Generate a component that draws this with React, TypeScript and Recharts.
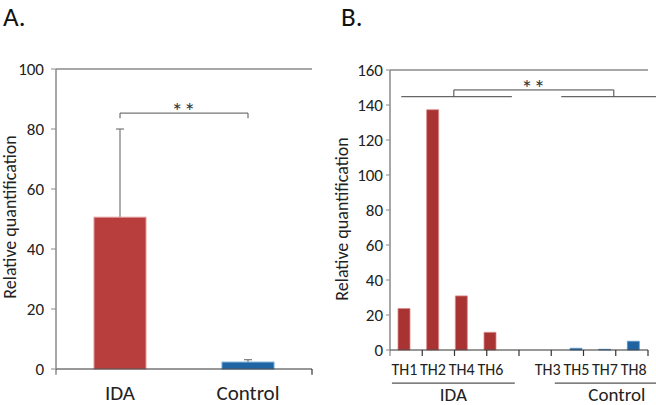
import { BarChart, Bar, XAxis, YAxis, Cell, ReferenceLine } from 'recharts';

// panel A: group means with upper error
const groupsA = ['IDA', 'Control'];
const meansA = [50.6, 2.3];
const errorsA = [29.4, 0.8];
const colorsA = ['#b83d3d', '#1f65a3'];
const ticksA = [0, 20, 40, 60, 80, 100];

// panel B: individual samples
const samplesB = ['TH1', 'TH2', 'TH4', 'TH6', '', 'TH3', 'TH5', 'TH7', 'TH8'];
const valuesB = [23.7, 137.3, 30.9, 10.1, null, 0, 1.0, 0.4, 5.0];
const groupOfB = ['IDA', 'IDA', 'IDA', 'IDA', '', 'Control', 'Control', 'Control', 'Control'];
const colorsB: Record<string, string> = { IDA: '#a93333', Control: '#1f63a0', '': 'none' };
const ticksB = [0, 20, 40, 60, 80, 100, 120, 140, 160];

const dataA = groupsA.map((g, i) => ({ group: g, value: meansA[i], err: errorsA[i] }));
const dataB = samplesB.map((s, i) => ({ sample: s, value: valuesB[i], group: groupOfB[i] }));

const FONT = 'Carlito, Lato, sans-serif';
const BOX = '#8a8a8a';
const INK = '#222';

const BarWithError = (props: any) => {
  const { x, y, width, height, fill, payload } = props;
  const perUnit = height / payload.value;
  const top = y - payload.err * perUnit;
  const cx = x + width / 2;
  return (
    <g>
      <line x1={cx} x2={cx} y1={y} y2={top} stroke="#777" strokeWidth={1.2} />
      <line x1={cx - 4} x2={cx + 4} y1={top} y2={top} stroke="#777" strokeWidth={1.2} />
      <rect x={x} y={y} width={width} height={height} fill={fill} stroke={fill === colorsA[0] ? '#e29a9a' : '#6fa6d6'} strokeWidth={1} />
    </g>
  );
};

// y tick text drawn by hand so the size sticks
const YTick = (props: any) => {
  const { x, y, payload } = props;
  return (
    <text x={x} y={y} dy="0.36em" textAnchor="end" fontSize={17} fill={INK} fontFamily={FONT}>
      {payload.value}
    </text>
  );
};

const starLabel = { value: '**', position: 'center' as const, dy: -2, fontSize: 23, style: { fontSize: 23, fill: '#333', letterSpacing: 1 } };

function PanelA() {
  const bracketY = 85.3;
  const bracketEnd = 83.6;
  return (
    <BarChart width={330} height={405} data={dataA} margin={{ top: 69, right: 18, left: 0, bottom: 0 }}>
      <XAxis dataKey="group" height={36} tickLine={false} axisLine={{ stroke: '#333', strokeWidth: 1.2 }}
        tickSize={6} tickMargin={10} fontSize={21} tick={{ fill: INK, fontSize: 21 }} />
      <XAxis xAxisId="n" type="number" domain={[0, 2]} hide />
      <YAxis domain={[0, 100]} ticks={ticksA} width={56} interval={0}
        axisLine={{ stroke: BOX, strokeWidth: 1.5 }} tickLine={{ stroke: BOX }} tickSize={5} tickMargin={7}
        tick={<YTick />}
        label={{ value: 'Relative quantification', angle: -90, position: 'center', dx: -18, dy: -2, fontSize: 18, style: { fontSize: 18, fill: INK, textAnchor: 'middle' } }} />
      <ReferenceLine y={100} stroke={BOX} strokeWidth={1.5} ifOverflow="visible" />
      <ReferenceLine xAxisId="n" ifOverflow="visible" stroke={BOX} strokeWidth={1.5} segment={[{ x: 2, y: 0 }, { x: 2, y: 100 }]} />
      {[0, 1, 2].map((b) => (
        <ReferenceLine key={b} xAxisId="n" ifOverflow="visible" stroke={b === 1 ? '#333' : BOX} strokeWidth={b === 1 ? 1.2 : 1.5}
          segment={[{ x: b, y: 0 }, { x: b, y: -1.9 }]} />
      ))}
      <Bar dataKey="value" barSize={52} isAnimationActive={false} shape={<BarWithError />}>
        {dataA.map((d, i) => <Cell key={d.group} fill={colorsA[i]} />)}
      </Bar>
      <ReferenceLine ifOverflow="visible" stroke="#555" segment={[{ x: 'IDA', y: bracketY }, { x: 'Control', y: bracketY }]} label={starLabel} />
      <ReferenceLine ifOverflow="visible" stroke="#555" segment={[{ x: 'IDA', y: bracketY }, { x: 'IDA', y: bracketEnd }]} />
      <ReferenceLine ifOverflow="visible" stroke="#555" segment={[{ x: 'Control', y: bracketY }, { x: 'Control', y: bracketEnd }]} />
    </BarChart>
  );
}

function PanelB() {
  const groupLineY = 144.8;
  const bracketY = 148.6;
  const underY = -18.9;
  const line = { xAxisId: 'n', ifOverflow: 'visible' as const };
  return (
    <BarChart width={326} height={405} data={dataB} margin={{ top: 70, right: 8, left: 0, bottom: 0 }}>
      <XAxis dataKey="sample" height={55} tickLine={false} axisLine={{ stroke: '#333', strokeWidth: 1.2 }}
        interval={0} tickSize={5} tickMargin={9} fontSize={16} tick={{ fill: INK, fontSize: 16 }} />
      <XAxis xAxisId="n" type="number" domain={[0, 9]} hide />
      <YAxis domain={[0, 160]} ticks={ticksB} width={60} interval={0}
        axisLine={{ stroke: BOX, strokeWidth: 1.5 }} tickLine={{ stroke: BOX }} tickSize={4} tickMargin={3}
        tick={<YTick />}
        label={{ value: 'Relative quantification', angle: -90, position: 'center', dx: -18, dy: 9, fontSize: 18, style: { fontSize: 18, fill: INK, textAnchor: 'middle' } }} />
      <ReferenceLine y={160} stroke={BOX} strokeWidth={1.5} ifOverflow="visible" />
      <ReferenceLine {...line} stroke={BOX} strokeWidth={1.5} segment={[{ x: 9, y: 0 }, { x: 9, y: 160 }]} />
      {[0, 1, 2, 3, 4, 5, 6, 7, 8, 9].map((b) => (
        <ReferenceLine key={b} {...line} stroke={b === 0 || b === 9 ? BOX : '#333'} strokeWidth={1.2}
          segment={[{ x: b, y: 0 }, { x: b, y: -3.4 }]} />
      ))}
      <Bar dataKey="value" barSize={12} isAnimationActive={false}>
        {dataB.map((d, i) => <Cell key={i} fill={colorsB[d.group]} stroke={d.group === 'IDA' ? '#d98a8a' : '#5f9ad0'} strokeWidth={0.8} />)}
      </Bar>
      <ReferenceLine {...line} stroke="#666" strokeWidth={1.2} segment={[{ x: 0.35, y: groupLineY }, { x: 3.78, y: groupLineY }]} />
      <ReferenceLine {...line} stroke="#666" strokeWidth={1.2} segment={[{ x: 5.31, y: groupLineY }, { x: 8.66, y: groupLineY }]} />
      <ReferenceLine {...line} stroke="#444" segment={[{ x: 1.98, y: bracketY }, { x: 6.94, y: bracketY }]} label={starLabel} />
      <ReferenceLine {...line} stroke="#444" segment={[{ x: 1.98, y: bracketY }, { x: 1.98, y: groupLineY }]} />
      <ReferenceLine {...line} stroke="#444" segment={[{ x: 6.94, y: bracketY }, { x: 6.94, y: groupLineY }]} />
      <ReferenceLine {...line} stroke="#555" strokeWidth={1.2} segment={[{ x: 0.06, y: underY }, { x: 3.87, y: underY }]}
        label={{ value: 'IDA', position: 'bottom', offset: 4, fontSize: 19, style: { fontSize: 19, fill: INK } }} />
      <ReferenceLine {...line} stroke="#555" strokeWidth={1.2} segment={[{ x: 5.11, y: underY }, { x: 8.96, y: underY }]}
        label={{ value: 'Control', position: 'bottom', offset: 4, fontSize: 19, style: { fontSize: 19, fill: INK } }} />
    </BarChart>
  );
}

export default function App() {
  return (
    <div style={{ position: 'absolute', left: 0, top: 0, width: 656, height: 405, background: '#fff', fontFamily: FONT, overflow: 'hidden' }}>
      <div style={{ position: 'absolute', left: 3, top: 3, fontSize: 27, lineHeight: '28px', color: '#111' }}>A.</div>
      <div style={{ position: 'absolute', left: 341, top: 3, fontSize: 27, lineHeight: '28px', color: '#111' }}>B.</div>
      <div style={{ position: 'absolute', left: 0, top: 0 }}>
        <PanelA />
      </div>
      <div style={{ position: 'absolute', left: 330, top: 0 }}>
        <PanelB />
      </div>
    </div>
  );
}
